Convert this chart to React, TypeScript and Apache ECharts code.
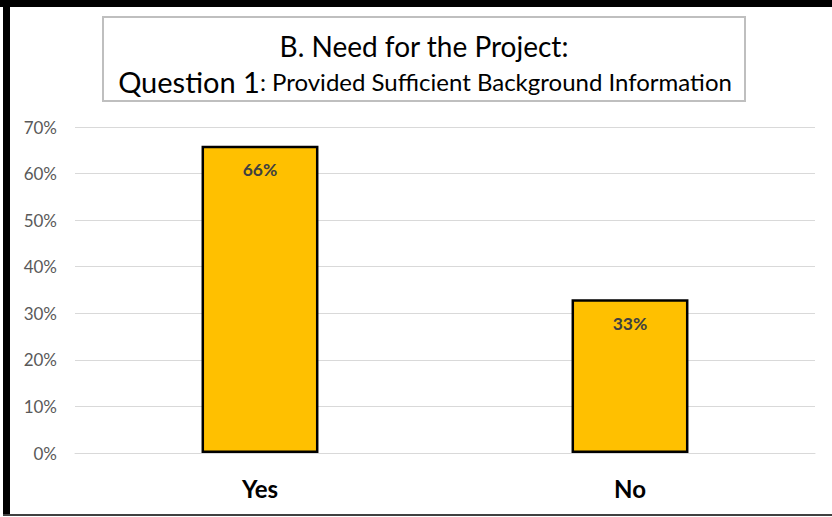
import React, { useEffect, useRef } from "react";
import * as echarts from "echarts";

const categories = ["Yes", "No"];
const values = [66, 33];
const yTicks = [0, 10, 20, 30, 40, 50, 60, 70];
const titleLine1 = "B. Need for the Project:";
const titleLine2a = "Question 1";
const titleLine2b = ": Provided Sufficient Background Information";

const FONT = "Lato, 'Open Sans', sans-serif";

export default function App() {
  const ref = useRef<HTMLDivElement>(null);
  useEffect(() => {
    if (!ref.current) return;
    const chart = echarts.init(ref.current, null, { renderer: "svg" });
    chart.setOption({
      animation: false,
      backgroundColor: "#ffffff",
      grid: { left: 75, right: 17, top: 127, bottom: 64 },
      xAxis: {
        type: "category",
        data: categories,
        axisLine: { show: true, lineStyle: { color: "#d9d9d9", width: 1 } },
        axisTick: { show: false },
        axisLabel: {
          color: "#000000",
          fontFamily: FONT,
          fontWeight: "bold",
          fontSize: 24,
          margin: 23,
        },
      },
      yAxis: {
        type: "value",
        min: 0,
        max: yTicks[yTicks.length - 1],
        interval: 10,
        axisLine: { show: false },
        axisTick: { show: false },
        splitLine: { lineStyle: { color: "#d9d9d9", width: 1 } },
        axisLabel: {
          formatter: (v: number) => v + "%",
          color: "#595959",
          fontFamily: FONT,
          fontSize: 17,
          margin: 18,
        },
      },
      series: [
        {
          type: "bar",
          data: values,
          barWidth: "31.6%",
          itemStyle: { color: "#FFC000", borderColor: "#000000", borderWidth: 2.5 },
          label: {
            show: true,
            position: "insideTop",
            distance: 15,
            formatter: (p: any) => p.value + "%",
            color: "#404040",
            fontFamily: FONT,
            fontWeight: "bold",
            fontSize: 17.5,
          },
        },
      ],
      graphic: [
        { type: "rect", shape: { x: 0, y: 0, width: 832, height: 7 }, style: { fill: "#000" } },
        { type: "rect", shape: { x: 3, y: 0, width: 7, height: 516 }, style: { fill: "#000" } },
        { type: "rect", shape: { x: 3, y: 514, width: 829, height: 2 }, style: { fill: "#404040" } },
        {
          type: "rect",
          shape: { x: 103, y: 17, width: 642, height: 84 },
          style: { fill: "#ffffff", stroke: "#bfbfbf", lineWidth: 2 },
        },
        {
          type: "text",
          x: 424,
          y: 46,
          style: {
            text: titleLine1,
            fontFamily: FONT,
            fontSize: 28,
            fill: "#000",
            align: "center",
            verticalAlign: "middle",
          },
        },
        {
          type: "text",
          x: 425,
          y: 81,
          style: {
            text: "{a|" + titleLine2a + "}{b|" + titleLine2b + "}",
            align: "center",
            verticalAlign: "middle",
            rich: {
              a: { fontFamily: FONT, fontSize: 29, fill: "#000", color: "#000" },
              b: { fontFamily: FONT, fontSize: 24, fill: "#000", color: "#000" },
            },
          },
        },
      ],
    });
    return () => chart.dispose();
  }, []);
  return (
    <div
      ref={ref}
      style={{ position: "fixed", left: 0, top: 0, width: 832, height: 517 }}
    />
  );
}
